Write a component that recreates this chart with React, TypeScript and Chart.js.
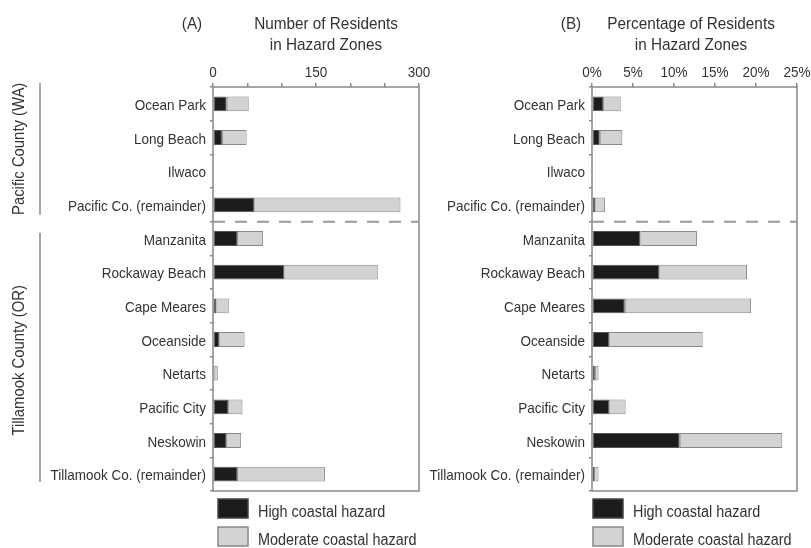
import React, { useEffect, useRef } from "react";
import { Chart, registerables } from "chart.js";
Chart.register(...registerables);

const places = [
  "Ocean Park",
  "Long Beach",
  "Ilwaco",
  "Pacific Co. (remainder)",
  "Manzanita",
  "Rockaway Beach",
  "Cape Meares",
  "Oceanside",
  "Netarts",
  "Pacific City",
  "Neskowin",
  "Tillamook Co. (remainder)",
];
const residentsHigh = [20, 13, 0, 60, 35, 104, 5, 9, 1, 22, 19, 35];
const residentsModerate = [32, 36, 0, 213, 38, 136, 18, 37, 6, 21, 22, 128];
const percentHigh = [1.35, 0.95, 0, 0.4, 5.9, 8.2, 4.0, 2.1, 0.35, 2.1, 10.7, 0.25];
const percentModerate = [2.15, 2.75, 0, 1.2, 6.9, 10.7, 15.4, 11.4, 0.45, 2.0, 12.5, 0.55];
const residentTickLabels = [0, 150, 300];
const percentTickLabels = [0, 5, 10, 15, 20, 25];
const seriesNames = ["High coastal hazard", "Moderate coastal hazard"];
const groupNames = ["Pacific County (WA)", "Tillamook County (OR)"];
const groupFirstIndex = [0, 4];
const groupLastIndex = [3, 11];

const FONT = "'Liberation Sans', Arial, Helvetica, sans-serif";
const TEXT = "#333333";
const LINE = "#888888";
const HIGH_FILL = "#1c1c1c";
const MOD_FILL = "#d3d3d3";

function ctext(
  ctx: CanvasRenderingContext2D,
  text: string,
  x: number,
  y: number,
  size: number,
  align: CanvasTextAlign,
  rot = 0
) {
  ctx.save();
  ctx.translate(x, y);
  if (rot) ctx.rotate(rot);
  ctx.scale(0.9, 1);
  ctx.font = `${size}px ${FONT}`;
  ctx.fillStyle = TEXT;
  ctx.textAlign = align;
  ctx.textBaseline = "alphabetic";
  ctx.fillText(text, 0, 0);
  ctx.restore();
}

type PanelOpts = {
  high: number[];
  moderate: number[];
  max: number;
  step: number;
  tickLabels: number[];
  fmt: (v: number) => string;
  letter: string;
  titleLines: string[];
  titleDx: number;
  legendBoxDx: number;
  legendTextDx: number;
  leftWidth: number;
  rightPad: number;
  groups: boolean;
};

function makePanel(canvas: HTMLCanvasElement, o: PanelOpts) {
  const deco = {
    id: "deco",
    afterDraw(chart: any) {
      const ctx: CanvasRenderingContext2D = chart.ctx;
      const a = chart.chartArea;
      const xs = chart.scales.x;
      const ys = chart.scales.y;
      const rowH = ys.getPixelForValue(1) - ys.getPixelForValue(0);
      const boundary = (i: number) => ys.getPixelForValue(i) + rowH / 2;

      // box
      ctx.save();
      ctx.strokeStyle = LINE;
      ctx.lineWidth = 1.5;
      ctx.strokeRect(a.left, a.top, a.right - a.left, a.bottom - a.top);
      // dashed separator between counties
      ctx.setLineDash([12, 10]);
      ctx.lineWidth = 2;
      ctx.strokeStyle = "#999999";
      const sy = boundary(groupLastIndex[0]);
      ctx.beginPath();
      ctx.moveTo(a.left, sy);
      ctx.lineTo(a.right, sy);
      ctx.stroke();
      ctx.restore();

      // x tick labels
      o.tickLabels.forEach((v) => {
        ctext(ctx, o.fmt(v), xs.getPixelForValue(v), 77, 15, "center");
      });
      // category labels
      places.forEach((p, i) => {
        ctext(ctx, p, a.left - 7, ys.getPixelForValue(i) + 6, 15, "right");
      });
      // titles
      ctext(ctx, o.letter, a.left - 21, 29, 17, "center");
      ctext(ctx, o.titleLines[0], a.left + o.titleDx, 29, 17, "center");
      ctext(ctx, o.titleLines[1], a.left + o.titleDx, 50, 17, "center");

      // groups
      if (o.groups) {
        const spans = [
          [ys.getPixelForValue(groupFirstIndex[0]) - rowH / 2 - 4, boundary(groupLastIndex[0]) - 7],
          [boundary(groupLastIndex[0]) + 11, ys.getPixelForValue(groupLastIndex[1]) + rowH / 2 - 9],
        ];
        spans.forEach(([y0, y1], gi) => {
          ctx.save();
          ctx.strokeStyle = LINE;
          ctx.lineWidth = 1.5;
          ctx.beginPath();
          ctx.moveTo(40, y0);
          ctx.lineTo(40, y1);
          ctx.stroke();
          ctx.restore();
          ctext(ctx, groupNames[gi], 24, (y0 + y1) / 2 + (gi === 1 ? 3 : 0), 16.5, "center", -Math.PI / 2);
        });
      }

      // legend
      const ds = chart.data.datasets;
      ds.forEach((d: any, k: number) => {
        const by = a.bottom + 8 + k * 28;
        ctx.save();
        ctx.fillStyle = d.backgroundColor;
        ctx.strokeStyle = k === 0 ? "#444444" : LINE;
        ctx.lineWidth = 1.5;
        ctx.fillRect(a.left + o.legendBoxDx, by, 30, 19);
        ctx.strokeRect(a.left + o.legendBoxDx, by, 30, 19);
        ctx.restore();
        ctext(ctx, d.label, a.left + o.legendTextDx, by + 18, 16, "left");
      });
    },
  };

  return new Chart(canvas, {
    type: "bar",
    data: {
      labels: places,
      datasets: [
        {
          label: seriesNames[0],
          data: o.high,
          backgroundColor: HIGH_FILL,
          borderColor: "#555555",
          borderWidth: 1,
          borderSkipped: false,
          barPercentage: 0.44,
          categoryPercentage: 1,
        },
        {
          label: seriesNames[1],
          data: o.moderate,
          backgroundColor: MOD_FILL,
          borderColor: LINE,
          borderWidth: 1,
          borderSkipped: false,
          barPercentage: 0.44,
          categoryPercentage: 1,
        },
      ],
    },
    options: {
      indexAxis: "y",
      animation: false,
      responsive: false,
      maintainAspectRatio: false,
      layout: { padding: { left: 0, top: 0, right: o.rightPad, bottom: 57 } },
      plugins: { legend: { display: false }, tooltip: { enabled: false } },
      scales: {
        x: {
          type: "linear",
          position: "top",
          stacked: true,
          min: 0,
          max: o.max,
          ticks: { display: false, stepSize: o.step },
          grid: { drawOnChartArea: false, drawTicks: true, tickLength: 4, color: LINE, lineWidth: 1.5 },
          border: { display: false },
          afterFit: (s: any) => {
            s.height = 87;
          },
        },
        y: {
          type: "category",
          stacked: true,
          ticks: { display: false },
          grid: { offset: true, drawOnChartArea: false, drawTicks: true, tickLength: 3, color: LINE, lineWidth: 1.5 },
          border: { display: false },
          afterFit: (s: any) => {
            s.width = o.leftWidth;
          },
        },
      },
    } as any,
    plugins: [deco],
  });
}

export default function App() {
  const refA = useRef<HTMLCanvasElement>(null);
  const refB = useRef<HTMLCanvasElement>(null);

  useEffect(() => {
    const cA = makePanel(refA.current!, {
      high: residentsHigh,
      moderate: residentsModerate,
      max: 300,
      step: 50,
      tickLabels: residentTickLabels,
      fmt: (v) => String(v),
      letter: "(A)",
      titleLines: ["Number of Residents", "in Hazard Zones"],
      titleDx: 113,
      legendBoxDx: 5,
      legendTextDx: 45,
      leftWidth: 213,
      rightPad: 21,
      groups: true,
    });
    const cB = makePanel(refB.current!, {
      high: percentHigh,
      moderate: percentModerate,
      max: 25,
      step: 5,
      tickLabels: percentTickLabels,
      fmt: (v) => v + "%",
      letter: "(B)",
      titleLines: ["Percentage of Residents", "in Hazard Zones"],
      titleDx: 99,
      legendBoxDx: 1,
      legendTextDx: 41,
      leftWidth: 172,
      rightPad: 14,
      groups: false,
    });
    return () => {
      cA.destroy();
      cB.destroy();
    };
  }, []);

  return (
    <div style={{ position: "absolute", left: 0, top: 0, width: 811, height: 548, background: "#ffffff" }}>
      <canvas ref={refA} width={440} height={548} style={{ position: "absolute", left: 0, top: 0, width: 440, height: 548 }} />
      <canvas ref={refB} width={391} height={548} style={{ position: "absolute", left: 420, top: 0, width: 391, height: 548 }} />
    </div>
  );
}
